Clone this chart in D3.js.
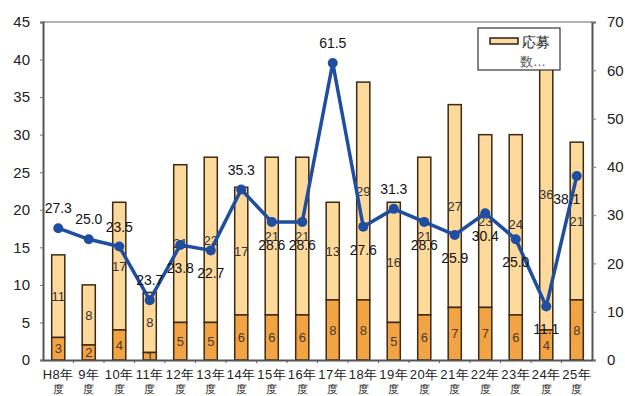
<!DOCTYPE html>
<html>
<head>
<meta charset="utf-8">
<script src="https://cdn.jsdelivr.net/npm/d3@7"></script>
<style>
  body { margin: 0; background: #fff; }
  svg text { font-family: Arial, "Liberation Sans", sans-serif; }
</style>
</head>
<body>
<div id="chart"></div>
<script>
const years = ["H8年", "9年", "10年", "11年", "12年", "13年", "14年", "15年", "16年",
               "17年", "18年", "19年", "20年", "21年", "22年", "23年", "24年", "25年"];
const lower = [3, 2, 4, 1, 5, 5, 6, 6, 6, 8, 8, 5, 6, 7, 7, 6, 4, 8];
const upper = [11, 8, 17, 8, 21, 22, 17, 21, 21, 13, 29, 16, 21, 27, 23, 24, 36, 21];
const rate = [27.3, 25.0, 23.5, 12.4, 23.8, 22.7, 35.3, 28.6, 28.6, 61.5, 27.6, 31.3, 28.6, 25.9, 30.4, 25.0, 11.1, 38.1];
const rateText = ["27.3", "25.0", "23.5", "23.7", "23.8", "22.7", "35.3", "28.6", "28.6",
                  "61.5", "27.6", "31.3", "28.6", "25.9", "30.4", "25.0", "11.1", "38.1"];
const ratePlace = ["a", "a", "a", "a", "b", "b", "a", "b", "b", "a", "b", "a", "b", "b", "b", "b", "b", "b"];
const leftTicks = [0, 5, 10, 15, 20, 25, 30, 35, 40, 45];
const rightTicks = [0, 10, 20, 30, 40, 50, 60, 70];

const W = 625, H = 396;
const pLeft = 43, pRight = 592, pTop = 22, pBottom = 360;

const svg = d3.select("#chart").append("svg")
    .attr("width", W)
    .attr("height", H);

const x = d3.scaleBand()
    .domain(years)
    .range([pLeft, pRight])
    .paddingInner(0.57)
    .paddingOuter(0.285);

const y = d3.scaleLinear().domain([0, 45]).range([pBottom, pTop]);
const y2 = d3.scaleLinear().domain([0, 70]).range([pBottom, pTop]);

const cx = d => x(d) + x.bandwidth() / 2;

// plot frame
svg.append("line")
    .attr("x1", pLeft).attr("x2", pRight)
    .attr("y1", pTop).attr("y2", pTop)
    .attr("stroke", "#999").attr("stroke-width", 1.5);

// bars
const rows = years.map((yr, i) => ({ yr, lo: lower[i], hi: upper[i] }));

const bars = svg.append("g");
bars.selectAll("rect.hi")
    .data(rows)
    .enter().append("rect")
    .attr("x", d => x(d.yr))
    .attr("width", x.bandwidth())
    .attr("y", d => y(d.lo + d.hi))
    .attr("height", d => y(d.lo) - y(d.lo + d.hi))
    .attr("fill", "#fdd99c")
    .attr("stroke", "#3b2a14")
    .attr("stroke-width", 1.5);

bars.selectAll("rect.lo")
    .data(rows)
    .enter().append("rect")
    .attr("x", d => x(d.yr))
    .attr("width", x.bandwidth())
    .attr("y", d => y(d.lo))
    .attr("height", d => y(0) - y(d.lo))
    .attr("fill", "#f2a444")
    .attr("stroke", "#3b2a14")
    .attr("stroke-width", 1.5);

// bar labels
bars.selectAll("text.lo")
    .data(rows)
    .enter().append("text")
    .attr("x", d => cx(d.yr))
    .attr("y", d => y(d.lo / 2))
    .attr("dy", "0.36em")
    .attr("text-anchor", "middle")
    .style("font-size", "13px")
    .attr("fill", "#4a3a2a")
    .text(d => d.lo);

bars.selectAll("text.hi")
    .data(rows)
    .enter().append("text")
    .attr("x", d => cx(d.yr))
    .attr("y", d => y(d.lo + d.hi / 2))
    .attr("dy", "0.36em")
    .attr("text-anchor", "middle")
    .style("font-size", "13px")
    .attr("fill", "#333")
    .text(d => d.hi);

// axes
const gl = svg.append("g")
    .attr("transform", `translate(${pLeft},0)`)
    .call(d3.axisLeft(y).tickValues(leftTicks).tickSize(3).tickPadding(10));
const gr = svg.append("g")
    .attr("transform", `translate(${pRight},0)`)
    .call(d3.axisRight(y2).tickValues(rightTicks).tickSize(4).tickPadding(11));
const gb = svg.append("g")
    .attr("transform", `translate(0,${pBottom})`)
    .call(d3.axisBottom(x).tickSize(0).tickFormat(""));

[gl, gr, gb].forEach(g => {
    g.select(".domain").attr("stroke", "#555").attr("stroke-width", 2);
    g.selectAll(".tick line").attr("stroke", "#777");
    g.selectAll(".tick text").style("font-size", "15px").attr("fill", "#222");
});

// small ticks between categories
svg.append("g").selectAll("line")
    .data(years.slice(1))
    .enter().append("line")
    .attr("x1", d => x(d) - x.step() * x.paddingInner() / 2)
    .attr("x2", d => x(d) - x.step() * x.paddingInner() / 2)
    .attr("y1", pBottom).attr("y2", pBottom + 3)
    .attr("stroke", "#557");

// category labels
const xl = svg.append("g").selectAll("g")
    .data(years)
    .enter().append("g");
xl.append("text")
    .attr("x", cx)
    .attr("y", 379)
    .attr("text-anchor", "middle")
    .style("font-size", "13px")
    .style("letter-spacing", "0.5px")
    .attr("fill", "#222")
    .text(d => d);
xl.append("text")
    .attr("x", cx)
    .attr("y", 393)
    .attr("text-anchor", "middle")
    .style("font-size", "11px")
    .attr("fill", "#222")
    .text("度");

// rate line
const pts = years.map((yr, i) => ({ yr, v: rate[i], t: rateText[i], p: ratePlace[i] }));

svg.append("path")
    .datum(pts)
    .attr("fill", "none")
    .attr("stroke", "#1f4ea0")
    .attr("stroke-width", 3.5)
    .attr("stroke-linejoin", "round")
    .attr("d", d3.line().x(d => cx(d.yr)).y(d => y2(d.v)));

svg.append("g").selectAll("circle")
    .data(pts)
    .enter().append("circle")
    .attr("cx", d => cx(d.yr))
    .attr("cy", d => y2(d.v))
    .attr("r", 5)
    .attr("fill", "#1f4ea0");

svg.append("g").selectAll("text")
    .data(pts)
    .enter().append("text")
    .attr("x", (d, i) => cx(d.yr) - (i === years.length - 1 ? 10 : 0))
    .attr("y", d => y2(d.v) + (d.p === "a" ? -20 : 23))
    .attr("dy", "0.36em")
    .attr("text-anchor", "middle")
    .style("font-size", "14px")
    .attr("fill", "#111")
    .text(d => d.t);

// legend
const lg = svg.append("g").attr("transform", "translate(478,28)");
lg.append("rect")
    .attr("width", 82).attr("height", 42)
    .attr("fill", "#fff")
    .attr("stroke", "#333").attr("stroke-width", 1.2);
lg.append("rect")
    .attr("x", 12).attr("y", 10)
    .attr("width", 28).attr("height", 6)
    .attr("fill", "#fdd99c")
    .attr("stroke", "#222").attr("stroke-width", 1.5);
lg.append("text")
    .attr("x", 44).attr("y", 19)
    .style("font-size", "14px")
    .attr("fill", "#222")
    .text("応募");
lg.append("text")
    .attr("x", 42).attr("y", 38)
    .style("font-size", "13px")
    .attr("fill", "#555")
    .text("数…");
</script>
</body>
</html>
